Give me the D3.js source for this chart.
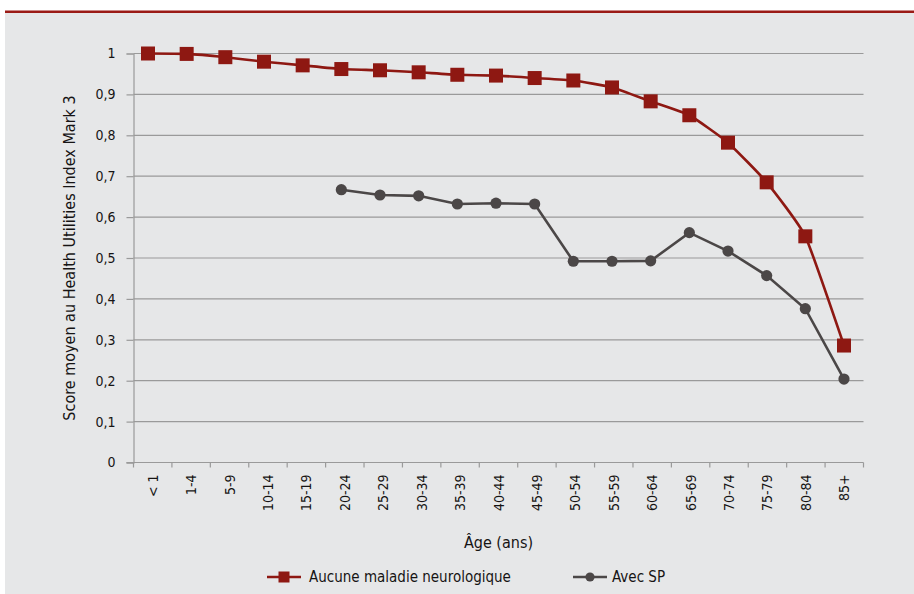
<!DOCTYPE html>
<html>
<head>
<meta charset="utf-8">
<script src="https://cdn.jsdelivr.net/npm/d3@7"></script>
<style>
  html, body { margin: 0; padding: 0; background: #ffffff; }
  svg { display: block; }
  text { font-family: "DejaVu Sans Condensed", "Roboto", sans-serif; fill: #161414; }
</style>
</head>
<body>
<svg id="chart" width="914" height="594"></svg>
<script>
// Age groups on the horizontal axis
const ageGroups = ["< 1", "1-4", "5-9", "10-14", "15-19", "20-24", "25-29", "30-34", "35-39",
  "40-44", "45-49", "50-54", "55-59", "60-64", "65-69", "70-74", "75-79", "80-84", "85+"];

// Mean HUI3 score, people without a neurological condition
const sansMaladie = [1.0, 0.999, 0.991, 0.980, 0.971, 0.962, 0.959, 0.954, 0.948,
  0.946, 0.940, 0.934, 0.917, 0.883, 0.849, 0.782, 0.685, 0.553, 0.286];

// Mean HUI3 score, people with MS (no estimate under 20)
const avecSP = [null, null, null, null, null, 0.667, 0.654, 0.652, 0.632,
  0.634, 0.632, 0.492, 0.492, 0.493, 0.562, 0.517, 0.457, 0.376, 0.204];

const yTicks = [0, 0.1, 0.2, 0.3, 0.4, 0.5, 0.6, 0.7, 0.8, 0.9, 1];

const seriesNames = ["Aucune maladie neurologique", "Avec SP"];
const yTitle = "Score moyen au Health Utilities Index Mark 3";
const xTitle = "Âge (ans)";

const RED = "#8e1812";
const DARK = "#4b4747";
const GRID = "#9a9a9a";

const svg = d3.select("#chart");

// panel background and top rule
svg.append("rect").attr("x", 5).attr("y", 12).attr("width", 909).attr("height", 582).attr("fill", "#e6e7e8");
svg.append("rect").attr("x", 5).attr("y", 10.5).attr("width", 909).attr("height", 2.5).attr("fill", "#9b1b16");

const plotL = 133.5, plotR = 863.5, plotT = 53.5, plotB = 462.5;

// category bands for ticks/labels, point scale for the markers
const x = d3.scaleBand().domain(ageGroups).range([plotL, plotR]).paddingInner(0).paddingOuter(0);
const xp = d3.scalePoint().domain(ageGroups).range([plotL + 14.5, plotR - 19.5]);
const y = d3.scaleLinear().domain([0, 1]).range([plotB, plotT]);

// horizontal gridlines
svg.append("g").selectAll("line").data(yTicks.filter(d => d > 0)).join("line")
  .attr("x1", plotL).attr("x2", plotR)
  .attr("y1", d => y(d)).attr("y2", d => y(d))
  .attr("stroke", GRID).attr("stroke-width", 1.2);

// y axis
const yAxis = d3.axisLeft(y).tickValues(yTicks).tickSize(7).tickPadding(11)
  .tickFormat(d => d === 0 ? "0" : d === 1 ? "1" : d3.format(".1f")(d).replace(".", ","));
const gy = svg.append("g").attr("transform", `translate(${plotL},0)`).call(yAxis);
gy.select(".domain").attr("stroke", GRID).attr("stroke-width", 1.2);
gy.selectAll(".tick line").attr("stroke", GRID).attr("stroke-width", 1.2);
gy.selectAll(".tick text").attr("font-size", 14).attr("fill", "#161414")
  .attr("font-family", "'DejaVu Sans Condensed', sans-serif");

// x axis with ticks on category boundaries
const gx = svg.append("g").attr("transform", `translate(0,${plotB})`);
gx.append("line").attr("x1", plotL - 7).attr("x2", plotR).attr("y1", 0).attr("y2", 0)
  .attr("stroke", GRID).attr("stroke-width", 1.2);
const bounds = ageGroups.map(d => x(d)).concat([plotR]);
gx.selectAll("line.tk").data(bounds).join("line").attr("class", "tk")
  .attr("x1", d => d).attr("x2", d => d).attr("y1", 0).attr("y2", 5)
  .attr("stroke", GRID).attr("stroke-width", 1.2);
gx.selectAll("text.lbl").data(ageGroups).join("text").attr("class", "lbl")
  .attr("transform", d => `translate(${x(d) + x.bandwidth() / 2 + 5},${12}) rotate(-90)`)
  .attr("text-anchor", "end")
  .attr("font-size", 14)
  .text(d => d);

// axis titles
svg.append("text").attr("transform", `translate(75,${(plotT + plotB) / 2}) rotate(-90)`)
  .attr("text-anchor", "middle").attr("font-size", 16).text(yTitle);
svg.append("text").attr("x", (plotL + plotR) / 2).attr("y", 548)
  .attr("text-anchor", "middle").attr("font-size", 16).text(xTitle);

// series without neurological condition: smoothed red line with square markers
const redPts = ageGroups.map((a, i) => [xp(a), y(sansMaladie[i])]);
svg.append("path").datum(redPts)
  .attr("d", d3.line().curve(d3.curveCardinal.tension(0.55)))
  .attr("fill", "none").attr("stroke", RED).attr("stroke-width", 2.6);
svg.append("g").selectAll("rect").data(redPts).join("rect")
  .attr("x", d => d[0] - 7).attr("y", d => d[1] - 7)
  .attr("width", 14).attr("height", 14).attr("fill", RED);

// MS series: straight dark line with round markers
const msPts = ageGroups.map((a, i) => avecSP[i] == null ? null : [xp(a), y(avecSP[i])]).filter(d => d);
svg.append("path").datum(msPts)
  .attr("d", d3.line())
  .attr("fill", "none").attr("stroke", DARK).attr("stroke-width", 2.6);
svg.append("g").selectAll("circle").data(msPts).join("circle")
  .attr("cx", d => d[0]).attr("cy", d => d[1]).attr("r", 5.6).attr("fill", DARK);

// legend
const lg = svg.append("g");
lg.append("line").attr("x1", 267).attr("x2", 301).attr("y1", 577).attr("y2", 577)
  .attr("stroke", RED).attr("stroke-width", 2.4);
lg.append("rect").attr("x", 284 - 5.5).attr("y", 577 - 5.5).attr("width", 11).attr("height", 11).attr("fill", RED);
lg.append("text").attr("x", 309).attr("y", 582).attr("font-size", 15).text(seriesNames[0]);
lg.append("line").attr("x1", 573).attr("x2", 607).attr("y1", 577).attr("y2", 577)
  .attr("stroke", DARK).attr("stroke-width", 2.4);
lg.append("circle").attr("cx", 590).attr("cy", 577).attr("r", 4.6).attr("fill", DARK);
lg.append("text").attr("x", 612).attr("y", 582).attr("font-size", 15).text(seriesNames[1]);
</script>
</body>
</html>
